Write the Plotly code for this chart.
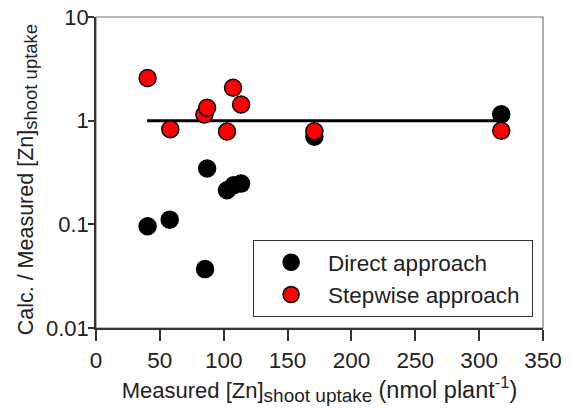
import plotly.graph_objects as go

# Data
direct_x = [40.4, 57.7, 85.4, 87.0, 102.6, 107.8, 113.6, 171.0, 317.3]
direct_y = [0.096, 0.111, 0.037, 0.345, 0.213, 0.238, 0.247, 0.70, 1.15]
step_x = [40.4, 58.2, 84.9, 87.0, 102.6, 107.3, 113.6, 171.0, 317.3]
step_y = [2.58, 0.826, 1.145, 1.33, 0.785, 2.08, 1.43, 0.79, 0.80]
line_x = [40, 317]
line_y = [1, 1]

x_ticks = [0, 50, 100, 150, 200, 250, 300, 350]
y_ticks = [0.01, 0.1, 1, 10]
y_tick_labels = ["0.01", "0.1", "1", "10"]

FONT = "Liberation Sans, Arial, sans-serif"
SUB = '<sub><span style="font-size:19px">shoot uptake</span></sub>'
SUB_Y = '<sub><span style="font-size:18.5px">shoot uptake</span></sub>'
X_TITLE = ("Measured [Zn]" + SUB +
           ' <span style="font-size:23.5px">(nmol plant<sup>-1</sup>)</span>')
Y_TITLE = "Calc. / Measured [Zn]" + SUB_Y

fig = go.Figure()
fig.add_trace(go.Scatter(x=line_x, y=line_y, mode="lines",
                         line=dict(color="black", width=3), showlegend=False,
                         hoverinfo="skip"))
fig.add_trace(go.Scatter(x=direct_x, y=direct_y, mode="markers", name="Direct approach",
                         marker=dict(size=17, color="black",
                                     line=dict(color="black", width=1.5))))
fig.add_trace(go.Scatter(x=step_x, y=step_y, mode="markers",
                         name="Stepwise approach\u00a0",
                         marker=dict(size=17, color="#ff0000",
                                     line=dict(color="black", width=1.5))))

# page body adds an 8px offset; margins compensate for it
fig.update_layout(
    width=565, height=400,
    margin=dict(l=88, r=30, t=9, b=80),
    paper_bgcolor="white", plot_bgcolor="white",
    font=dict(family=FONT, size=22, color="#222222"),
    xaxis=dict(range=[0, 350], tickvals=x_ticks, showgrid=False, zeroline=False,
               showline=True, linecolor="#333333", linewidth=1.5,
               ticks="outside", ticklen=11, tickwidth=1.5, tickcolor="#333333",
               tickfont=dict(size=22.5), automargin=False,
               ticklabeloverflow="allow",
               title=dict(text=X_TITLE, font=dict(size=22), standoff=6)),
    yaxis=dict(type="log", range=[-2, 1], tickvals=y_ticks, ticktext=y_tick_labels,
               showgrid=False, zeroline=False,
               showline=True, linecolor="#333333", linewidth=1.5,
               ticks="outside", ticklen=6, tickwidth=1.5, tickcolor="#333333",
               tickfont=dict(size=22), automargin=False,
               ticklabeloverflow="allow", ticklabelstandoff=-5),
    legend=dict(x=0.351, y=0.283, xanchor="left", yanchor="top",
                bordercolor="#333333", borderwidth=1.2, bgcolor="white",
                font=dict(size=22.5, color="#222222"), itemwidth=64,
                tracegroupgap=0),
    shapes=[dict(type="rect", xref="paper", yref="paper", x0=0, x1=1, y0=0, y1=1,
                 line=dict(color="#777777", width=1.2), layer="below")],
    annotations=[dict(text=Y_TITLE, textangle=-90, xref="paper", yref="paper",
                      x=-0.152, y=0.475, xanchor="center", yanchor="middle",
                      showarrow=False, font=dict(size=21.5, color="#222222"))],
)

fig.write_html("out.html")
